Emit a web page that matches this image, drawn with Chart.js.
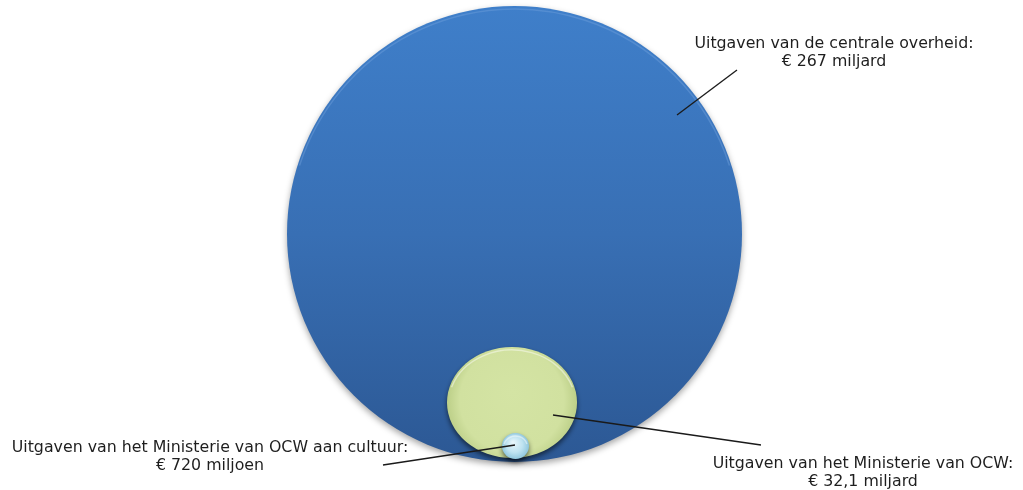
<!DOCTYPE html>
<html>
<head>
<meta charset="utf-8">
<script src="https://cdn.jsdelivr.net/npm/chart.js@4/dist/chart.umd.min.js"></script>
<style>
  body { margin: 0; background: #fff; }
  #wrap { width: 1023px; height: 490px; }
</style>
</head>
<body>
<div id="wrap"><canvas id="chart-bubbles" width="1023" height="490"></canvas></div>
<script>
// Spending, in billions of euros
const categories = [
  'Uitgaven van de centrale overheid:',
  'Uitgaven van het Ministerie van OCW:',
  'Uitgaven van het Ministerie van OCW aan cultuur:'
];
const values = [267, 32.1, 0.72];
const amountLabels = ['€ 267 miljard', '€ 32,1 miljard', '€ 720 miljoen'];

// bubble geometry in axis units (axis spans 0..1023 x 0..490)
const centerX = [514.5, 512, 515.5];
const centerY = [234, 402.5, 446];
const radiusX = [227.5, 65, 13.5];
const radiusY = [228, 55.5, 13];

// where each leader line touches its bubble, and where its label sits
const leaderFromX = [677, 553, 515];
const leaderFromY = [115, 415, 445];
const leaderToX = [737, 761, 383];
const leaderToY = [70, 445, 465];
const labelX = [834, 863, 210];
const labelY = [48, 468, 452];

function bubbleFill(ctx, i, x, y, rx, ry) {
  let g;
  if (i === 0) {
    g = ctx.createLinearGradient(0, y - ry, 0, y + ry);
    g.addColorStop(0, '#3f7fca');
    g.addColorStop(0.5, '#386fb4');
    g.addColorStop(1, '#2c5894');
  } else if (i === 1) {
    g = ctx.createRadialGradient(x, y - ry * 0.2, 0, x, y, Math.max(rx, ry));
    g.addColorStop(0, '#d4e4a4');
    g.addColorStop(0.8, '#d1e1a0');
    g.addColorStop(1, '#bccf88');
  } else {
    g = ctx.createRadialGradient(x - rx * 0.2, y - ry * 0.3, 0, x, y, rx);
    g.addColorStop(0, '#eaf7fc');
    g.addColorStop(0.6, '#bfe3f1');
    g.addColorStop(1, '#8fc6dd');
  }
  return g;
}

const ellipsePlugin = {
  id: 'ellipses',
  afterDatasetsDraw(chart) {
    const ctx = chart.ctx;
    const xs = chart.scales.x;
    const ys = chart.scales.y;
    chart.data.datasets.forEach((ds, i) => {
      const pt = chart.getDatasetMeta(i).data[0];
      const rx = Math.abs(xs.getPixelForValue(radiusX[i]) - xs.getPixelForValue(0));
      const ry = Math.abs(ys.getPixelForValue(radiusY[i]) - ys.getPixelForValue(0));
      ctx.save();
      ctx.shadowColor = i === 0 ? 'rgba(0,0,0,0.35)' : 'rgba(0,0,0,0.55)';
      ctx.shadowBlur = i === 0 ? 6 : 5;
      ctx.shadowOffsetY = 3;
      ctx.beginPath();
      ctx.ellipse(pt.x, pt.y, rx, ry, 0, 0, Math.PI * 2);
      ctx.fillStyle = bubbleFill(ctx, i, pt.x, pt.y, rx, ry);
      ctx.fill();
      ctx.restore();
      // soft rim highlight at the top
      ctx.save();
      ctx.beginPath();
      ctx.ellipse(pt.x, pt.y + 1.5, Math.max(rx - 1.5, 1), Math.max(ry - 1.5, 1), 0, Math.PI * 1.1, Math.PI * 1.9);
      ctx.strokeStyle = i === 0 ? 'rgba(110,160,220,0.45)' : 'rgba(255,255,255,0.45)';
      ctx.lineWidth = 1.5;
      ctx.stroke();
      ctx.restore();
    });

    // leader lines and labels
    ctx.save();
    ctx.strokeStyle = '#1a1a1a';
    ctx.lineWidth = 1.3;
    ctx.fillStyle = '#1e1e1e';
    ctx.font = '15.8px "DejaVu Sans", Verdana, sans-serif';
    ctx.textAlign = 'center';
    ctx.textBaseline = 'alphabetic';
    categories.forEach((name, i) => {
      ctx.beginPath();
      ctx.moveTo(xs.getPixelForValue(leaderFromX[i]), ys.getPixelForValue(leaderFromY[i]));
      ctx.lineTo(xs.getPixelForValue(leaderToX[i]), ys.getPixelForValue(leaderToY[i]));
      ctx.stroke();
      const lx = xs.getPixelForValue(labelX[i]);
      const ly = ys.getPixelForValue(labelY[i]);
      ctx.fillText(name, lx, ly);
      ctx.fillText(amountLabels[i], lx, ly + 18);
    });
    ctx.restore();
  }
};

const ctx = document.getElementById('chart-bubbles');
new Chart(ctx, {
  type: 'scatter',
  data: {
    datasets: categories.map((name, i) => ({
      label: name,
      data: [{ x: centerX[i], y: centerY[i], v: values[i] }],
      pointRadius: 0,
      pointHoverRadius: 0,
      borderWidth: 0,
      showLine: false
    }))
  },
  options: {
    responsive: false,
    animation: false,
    events: [],
    layout: { padding: 0 },
    plugins: { legend: { display: false }, tooltip: { enabled: false } },
    scales: {
      x: { type: 'linear', min: 0, max: 1023, display: false },
      y: { type: 'linear', min: 0, max: 490, reverse: true, display: false }
    }
  },
  plugins: [ellipsePlugin]
});
</script>
</body>
</html>
